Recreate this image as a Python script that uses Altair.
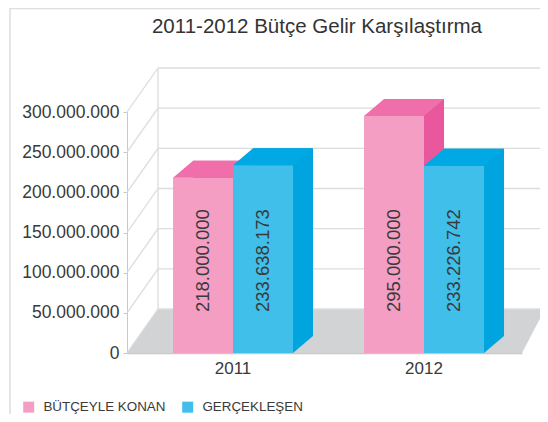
import altair as alt
import pandas as pd

title_text = "2011-2012 Bütçe Gelir Karşılaştırma"
years = ["2011", "2012"]
series = ["BÜTÇEYLE KONAN", "GERÇEKLEŞEN"]
budget = [218000000, 295000000]
actual = [233638173, 233226742]
y_ticks = [0, 50000000, 100000000, 150000000, 200000000, 250000000, 300000000]

front_colors = ["#f49ec4", "#40bfea"]
top_colors = ["#f06ea9", "#00a9e3"]
side_colors = ["#e9579d", "#00a5df"]

rows = []
for i, yr in enumerate(years):
    for s, vals in zip(series, [budget, actual]):
        v = vals[i]
        rows.append({"year": yr, "series": s, "value": v,
                     "label": f"{v:,}".replace(",", ".")})
df = pd.DataFrame(rows)
ticks_df = pd.DataFrame({"tick": y_ticks})
one_df = pd.DataFrame({"t": [title_text]})

W, H = 395, 241
DX, DY = 20, -17      # bar depth
WX, WY = 31, -44      # wall depth
FONT = "Liberation Sans"
TXT = "#3a3a3a"

yscale = alt.Scale(domain=[0, 300000000], nice=False, zero=True)
xscale = alt.Scale(domain=years, paddingInner=0.4, paddingOuter=0.234, align=0.545)
cscale = alt.Scale(domain=series, range=front_colors)

y_axis = alt.Axis(values=y_ticks, title=None, grid=False,
                  labelExpr="replace(format(datum.value, ','), regexp(',', 'g'), '.')",
                  domainColor="#c8c8c8", tickColor="#c8c8c8", tickSize=4,
                  labelFontSize=17.5, labelFont=FONT, labelColor=TXT, labelPadding=4)
x_axis = alt.Axis(title=None, labelAngle=0, ticks=False, domainColor="#c8c8c8",
                  domainWidth=1.5, labelFontSize=17, labelFont=FONT,
                  labelColor=TXT, labelPadding=7)
legend = alt.Legend(title=None, orient="none", legendX=-105, legendY=288,
                    direction="horizontal", symbolType="square", symbolSize=121,
                    symbolStrokeWidth=0, labelFontSize=13.4, labelFont=FONT,
                    labelColor=TXT, columnPadding=15, labelOffset=8)


def Yf(field):
    return alt.Y(field, scale=yscale, axis=y_axis)


def Yzero():
    return alt.Y(datum=0, scale=yscale, axis=y_axis)


X = alt.X("year:N", scale=xscale, axis=x_axis)

layers = []

# outer frame
layers.append(alt.Chart(one_df).mark_rule(color="#dddddd", strokeWidth=1.5).encode(
    x=alt.value(-117), y=alt.value(-104), y2=alt.value(302)))
layers.append(alt.Chart(one_df).mark_rule(color="#dddddd", strokeWidth=1.5).encode(
    x=alt.value(-117), x2=alt.value(W + 30), y=alt.value(-103.5)))

# floor
floor_path = "M0,0L3.95,0L4.18,-0.44L0.31,-0.44Z"
layers.append(alt.Chart(ticks_df).transform_filter("datum.tick == 0").mark_point(
    shape=floor_path, size=40000, filled=True, color="#d2d3d5", opacity=1,
    strokeWidth=0).encode(x=alt.value(0), y=Yf("tick:Q")))

# back wall grid
layers.append(alt.Chart(ticks_df).mark_rule(color="#dcdcdc", strokeWidth=1.3, yOffset=WY).encode(
    x=alt.value(WX), x2=alt.value(W + 40), y=Yf("tick:Q")))
# slanted side lines
layers.append(alt.Chart(ticks_df).mark_rule(color="#dcdcdc", strokeWidth=1.3, y2Offset=WY).encode(
    x=alt.value(0), x2=alt.value(WX), y=Yf("tick:Q"), y2="tick:Q"))
# back wall left edge
layers.append(alt.Chart(ticks_df).transform_filter("datum.tick == 0").mark_rule(
    color="#dcdcdc", strokeWidth=1.3, yOffset=WY, y2Offset=WY).encode(
    x=alt.value(WX), y=Yf("tick:Q"), y2=alt.datum(300000000)))

top_path = "M-0.75,0L0.75,0L1.25,-0.425L-0.25,-0.425Z"
tri_path = "M0.75,0L0.75,-0.425L1.25,-0.425Z"

for k, s in enumerate(series):
    off = -30 if k == 0 else 30
    base = alt.Chart(df).transform_filter(alt.datum.series == s)
    layers.append(base.mark_bar(width=60, xOffset=off + DX, yOffset=DY, y2Offset=DY,
                                color=side_colors[k]).encode(x=X, y=Yf("value:Q")))
    layers.append(base.mark_point(shape=tri_path, size=6400, filled=True, opacity=1,
                                  strokeWidth=0, color=side_colors[k], xOffset=off).encode(
        x=X, y=Yzero()))
    layers.append(base.mark_bar(width=60, xOffset=off).encode(
        x=X, y=Yf("value:Q"), color=alt.Color("series:N", scale=cscale, legend=legend)))
    layers.append(base.mark_point(shape=top_path, size=6400, filled=True, opacity=1,
                                  strokeWidth=0, color=top_colors[k], xOffset=off).encode(
        x=X, y=Yf("value:Q")))

for k, s in enumerate(series):
    off = -30 if k == 0 else 30
    base = alt.Chart(df).transform_filter(alt.datum.series == s)
    layers.append(base.mark_text(angle=270, align="left", baseline="middle", fontSize=18.5,
                                 font=FONT, color=TXT, xOffset=off, yOffset=-41).encode(
        x=X, y=Yzero(), text="label:N"))

layers.append(alt.Chart(one_df).mark_text(fontSize=20.5, font=FONT, color="#333333",
                                         align="center", baseline="alphabetic").encode(
    x=alt.value(190), y=alt.value(-79), text="t:N"))

chart = alt.layer(*layers).properties(
    width=W, height=H,
    autosize=alt.AutoSizeParams(type="none"),
    padding={"left": 119, "top": 104, "right": 18, "bottom": 61},
).configure_view(strokeWidth=0)

chart.save("out.html", embed_options={"renderer": "svg", "actions": False})
